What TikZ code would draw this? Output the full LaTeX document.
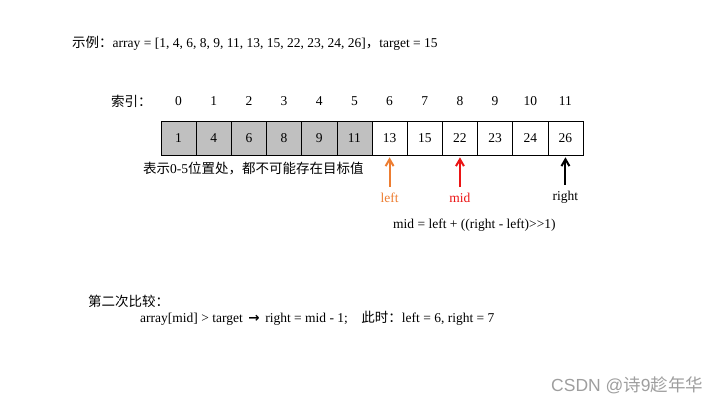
\documentclass[tikz,border=0pt]{standalone}
\usepackage{fontspec}
\setmainfont{Liberation Serif}
\newfontfamily\cjk{Noto Sans CJK SC}
\newfontfamily\wmfont{Liberation Sans}
\newfontfamily\symfont{DejaVu Sans}
\usepackage{xcolor}
\usetikzlibrary{arrows.meta,positioning}
\definecolor{cellgray}{RGB}{192,192,192}
\definecolor{leftorange}{RGB}{237,125,49}
\definecolor{midred}{RGB}{235,20,20}
\newcommand{\zh}[1]{{\cjk #1}}

\begin{document}
\begin{tikzpicture}[x=1pt, y=-1pt,
  every node/.style={font=\fontsize{13.5}{16}\selectfont, inner sep=0pt},
  cell/.style={draw, line width=0.6pt, minimum width=35.17pt, minimum height=34pt},
  txt/.style={anchor=west},
  ptr/.style={-{Straight Barb[length=2.4mm, width=2.8mm]}, line width=2pt, shorten >=2pt, shorten <=6pt}
]
\useasboundingbox (0,0) rectangle (720,405);
\node[txt] (title) at (72,43) {\zh{示例：}array = [1, 4, 6, 8, 9, 11, 13, 15, 22, 23, 24, 26]\zh{，}target = 15};
\node[txt] (idx) at (111,101) {\zh{索引：}};
% array cells and their indices
\foreach \v [count=\i from 0] in {1,4,6,8,9,11,13,15,22,23,24,26} {
  \ifnum\i<6 \def\fillc{cellgray}\else \def\fillc{white}\fi
  \node[cell, fill=\fillc] (c\i) at ({161+35.17*(\i+0.5)},138) {\v};
  \node (i\i) at ({161+35.17*(\i+0.5)},101) {\i};
}
\node[txt] (note) at (143,168) {\zh{表示}0-5\zh{位置处，都不可能存在目标值}};
\node[text=leftorange] (lft) at (c6 |- 0,198) {left};
\node[text=midred] (md) at (c8 |- 0,198) {mid};
\node (rgt) at (c11 |- 0,197) {right};
\draw[ptr, leftorange] (lft.north) -- (c6.south);
\draw[ptr, midred] (md.north) -- (c8.south);
\draw[ptr] (rgt.north) -- (c11.south);
\node[txt] (formula) at (393,225) {mid = left + ((right - left)>{}>1)};
\node[txt] (step) at (88,301) {\zh{第二次比较：}};
\node[txt] (cmp) at (140,318) {array[mid] > target \,{\symfont\bfseries →}\, right = mid - 1;\quad \zh{此时：}left = 6, right = 7};
\node[txt, text=black!38, font=\fontsize{17.5}{20}\selectfont] (wm) at (551,385) {\wmfont CSDN @\zh{诗}9\zh{趁年华}};
\end{tikzpicture}
\end{document}
